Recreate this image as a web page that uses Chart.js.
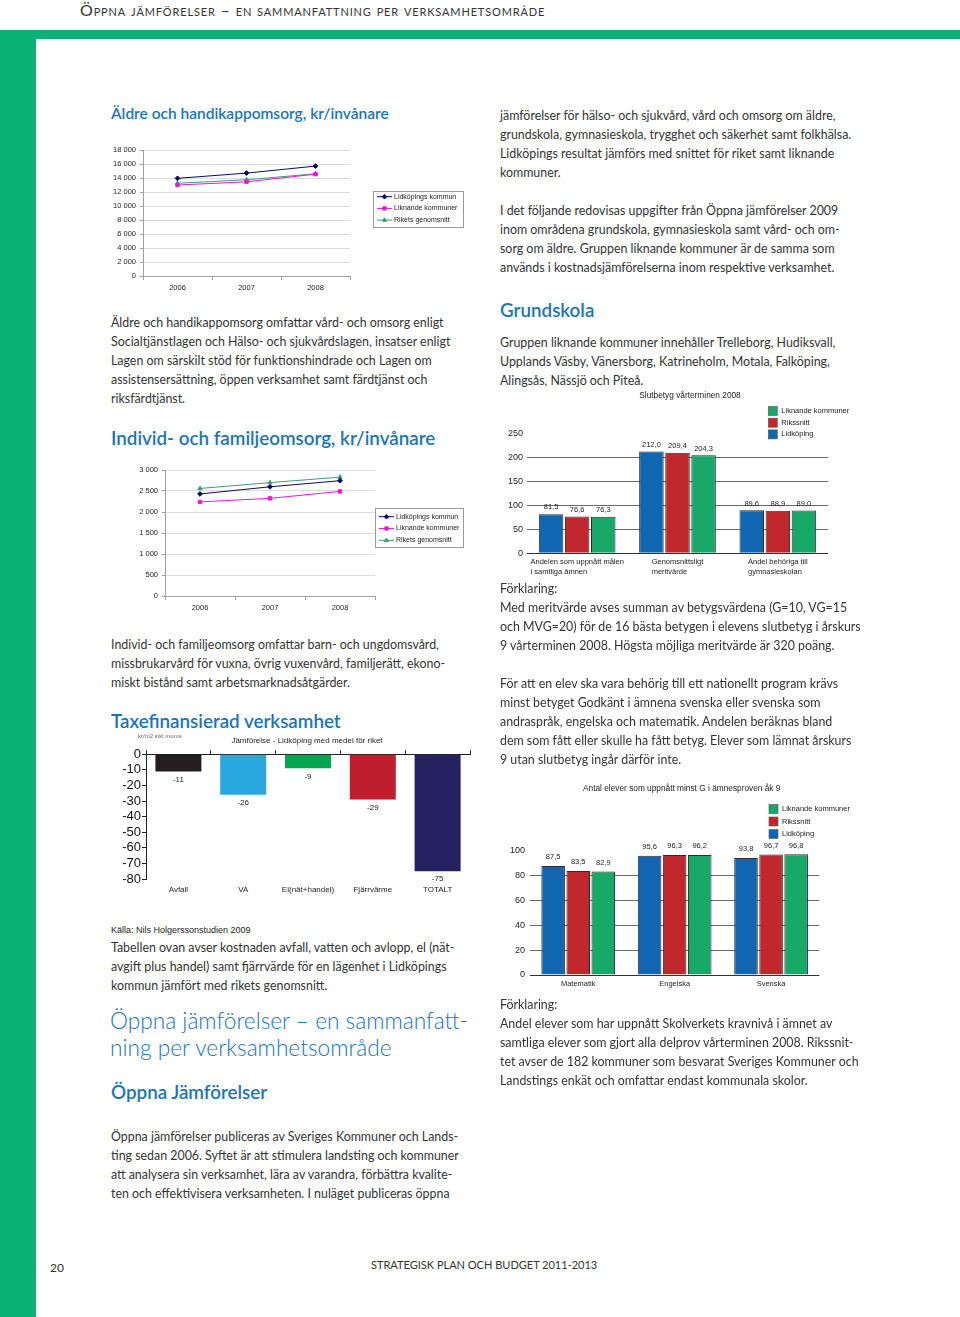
<!DOCTYPE html>
<html lang="sv">
<head>
<meta charset="utf-8">
<title>Öppna jämförelser</title>
<script src="https://cdn.jsdelivr.net/npm/chart.js@4.4.1/dist/chart.umd.min.js"></script>
<style>
    html, body { margin: 0; padding: 0; background: #fff; }
    body { width: 960px; height: 1317px; position: relative; overflow: hidden; font-family: Lato, 'Open Sans', sans-serif; color: #333; }
    .band { position: absolute; left: 0; top: 30px; width: 960px; height: 9px; background: #0bb174; }
    .strip { position: absolute; left: 0; top: 30px; width: 36px; height: 1287px; background: #0bb174; }
    .runhead { position: absolute; left: 80px; top: 1px; font-size: 16px; line-height: 18px; font-variant: small-caps; letter-spacing: 0.85px; color: #333; white-space: nowrap; }
    .txt { position: absolute; font-size: 12.4px; line-height: 19px; color: #333; white-space: nowrap; }
    .h { position: absolute; color: #1c74b6; font-weight: 600; white-space: nowrap; line-height: 20px; font-size: 18.8px; }
    .big { position: absolute; color: #1c74b6; font-weight: 300; font-size: 22.7px; line-height: 27px; white-space: nowrap; }
    .src { position: absolute; font-family: 'Liberation Sans', Arial, sans-serif; font-size: 9px; line-height: 12px; color: #222; white-space: nowrap; }
    canvas { position: absolute; }
    .foot { position: absolute; font-size: 12px; line-height: 16px; color: #333; white-space: nowrap; }
</style>
</head>
<body>
<div class="band"></div>
<div class="strip"></div>
<div class="runhead">Öppna jämförelser – en sammanfattning per verksamhetsområde</div>

<!-- left column -->
<div class="h" style="left:111px; top:103px; font-size:15.5px;">Äldre och handikappomsorg, kr/invånare</div>
<canvas id="aldreChart" width="360" height="165" style="left:110px; top:140px;"></canvas>
<div class="txt" style="left:111px; top:312.5px;">Äldre och handikappomsorg omfattar vård- och omsorg enligt<br>Socialtjänstlagen och Hälso- och sjukvårdslagen, insatser enligt<br>Lagen om särskilt stöd för funktionshindrade och Lagen om<br>assistensersättning, öppen verksamhet samt färdtjänst och<br>riksfärdtjänst.</div>

<div class="h" style="left:111px; top:428px;">Individ- och familjeomsorg, kr/invånare</div>
<canvas id="ifoChart" width="360" height="160" style="left:110px; top:460px;"></canvas>
<div class="txt" style="left:111px; top:634.5px;">Individ- och familjeomsorg omfattar barn- och ungdomsvård,<br>missbrukarvård för vuxna, övrig vuxenvård, familjerätt, ekono-<br>miskt bistånd samt arbetsmarknadsåtgärder.</div>

<div class="h" style="left:111px; top:711px;">Taxefinansierad verksamhet</div>
<canvas id="taxaChart" width="370" height="172" style="left:105px; top:728px;"></canvas>
<div class="src" style="left:111px; top:924px;">Källa: Nils Holgerssonstudien 2009</div>
<div class="txt" style="left:111px; top:937.5px;">Tabellen ovan avser kostnaden avfall, vatten och avlopp, el (nät-<br>avgift plus handel) samt fjärrvärde för en lägenhet i Lidköpings<br>kommun jämfört med rikets genomsnitt.</div>

<div class="big" style="left:110px; top:1006.5px;">Öppna jämförelser – en sammanfatt-<br>ning per verksamhetsområde</div>
<div class="h" style="left:111px; top:1082px;">Öppna Jämförelser</div>
<div class="txt" style="left:111px; top:1126.5px;">Öppna jämförelser publiceras av Sveriges Kommuner och Lands-<br>ting sedan 2006. Syftet är att stimulera landsting och kommuner<br>att analysera sin verksamhet, lära av varandra, förbättra kvalite-<br>ten och effektivisera verksamheten. I nuläget publiceras öppna</div>

<!-- right column -->
<div class="txt" style="left:500px; top:105.5px;">jämförelser för hälso- och sjukvård, vård och omsorg om äldre,<br>grundskola, gymnasieskola, trygghet och säkerhet samt folkhälsa.<br>Lidköpings resultat jämförs med snittet för riket samt liknande<br>kommuner.</div>
<div class="txt" style="left:500px; top:200.5px;">I det följande redovisas uppgifter från Öppna jämförelser 2009<br>inom områdena grundskola, gymnasieskola samt vård- och om-<br>sorg om äldre. Gruppen liknande kommuner är de samma som<br>används i kostnadsjämförelserna inom respektive verksamhet.</div>
<div class="h" style="left:500px; top:300px;">Grundskola</div>
<div class="txt" style="left:500px; top:332.5px;">Gruppen liknande kommuner innehåller Trelleborg, Hudiksvall,<br>Upplands Väsby, Vänersborg, Katrineholm, Motala, Falköping,<br>Alingsås, Nässjö och Piteå.</div>
<canvas id="slutbetygChart" width="360" height="197" style="left:500px; top:385px;"></canvas>
<div class="txt" style="left:500px; top:579px;">Förklaring:<br>Med meritvärde avses summan av betygsvärdena (G=10, VG=15<br>och MVG=20) för de 16 bästa betygen i elevens slutbetyg i årskurs<br>9 vårterminen 2008. Högsta möjliga meritvärde är 320 poäng.</div>
<div class="txt" style="left:500px; top:673.5px;">För att en elev ska vara behörig till ett nationellt program krävs<br>minst betyget Godkänt i ämnena svenska eller svenska som<br>andraspråk, engelska och matematik. Andelen beräknas bland<br>dem som fått eller skulle ha fått betyg. Elever som lämnat årskurs<br>9 utan slutbetyg ingår därför inte.</div>
<canvas id="provChart" width="360" height="214" style="left:500px; top:778px;"></canvas>
<div class="txt" style="left:500px; top:994.5px;">Förklaring:<br>Andel elever som har uppnått Skolverkets kravnivå i ämnet av<br>samtliga elever som gjort alla delprov vårterminen 2008. Rikssnit-<br>tet avser de 182 kommuner som besvarat Sveriges Kommuner och<br>Landstings enkät och omfattar endast kommunala skolor.</div>

<div class="foot" style="left:50px; top:1260px;">20</div>
<div class="foot" style="left:371px; top:1257px; font-size:11px;">STRATEGISK PLAN OCH BUDGET 2011-2013</div>

<script>
// ---- data ----
const years = ['2006', '2007', '2008'];
const lineSeriesNames = ['Lidköpings kommun', 'Liknande kommuner', 'Rikets genomsnitt'];

const aldreLidkoping = [13950, 14700, 15700];
const aldreLiknande = [13000, 13450, 14550];
const aldreRiket = [13250, 13750, 14600];
const aldreTicks = { min: 0, max: 18000, step: 2000 };

const ifoLidkoping = [2430, 2600, 2745];
const ifoLiknande = [2240, 2325, 2490];
const ifoRiket = [2560, 2700, 2830];
const ifoTicks = { min: 0, max: 3000, step: 500 };

const taxaCategories = ['Avfall', 'VA', 'El(nät+handel)', 'Fjärrvärme', 'TOTALT'];
const taxaValues = [-11, -26, -9, -29, -75];
const taxaTicks = { min: -80, max: 0, step: 10 };

const barSeriesNames = ['Lidköping', 'Rikssnitt', 'Liknande kommuner'];

const slutbetygCategories = [
    ['Andelen som uppnått målen', 'i samtliga ämnen'],
    ['Genomsnittsligt', 'meritvärde'],
    ['Andel behöriga till', 'gymnasieskolan']
];
const slutbetygLidkoping = [81.5, 212.0, 89.6];
const slutbetygRikssnitt = [76.6, 209.4, 88.9];
const slutbetygLiknande = [76.3, 204.3, 89.0];
const slutbetygTicks = { min: 0, max: 250, step: 50 };

const provCategories = ['Matematik', 'Engelska', 'Svenska'];
const provLidkoping = [87.5, 95.6, 93.8];
const provRikssnitt = [83.5, 96.3, 96.7];
const provLiknande = [82.9, 96.2, 96.8];
const provTicks = { min: 0, max: 100, step: 20 };

// ---- shared bits ----
const ARIAL = "'Liberation Sans', Arial, sans-serif";
const lineColors = ['#0a0a66', '#e619d6', '#3f9a77'];
const lineMarkers = ['rectRot', 'rect', 'triangle'];
const barColors = ['#1166b2', '#c1282e', '#18a867'];

Chart.defaults.font.family = ARIAL;
Chart.defaults.color = '#333';
Chart.defaults.animation = false;
Chart.defaults.responsive = false;
Chart.defaults.plugins.legend.display = false;
Chart.defaults.plugins.tooltip.enabled = false;

const spaced = v => String(v).replace(/\B(?=(\d{3})+(?!\d))/g, ' ');
const comma = v => v.toFixed(1).replace('.', ',');
const fixWidth = w => scale => { scale.width = w; };
const fixHeight = h => scale => { scale.height = h; };

// boxed legend for the two line charts
function lineLegend(box) {
    return {
        id: 'lineLegend',
        afterDraw(chart) {
            const ctx = chart.ctx;
            ctx.save();
            ctx.strokeStyle = '#9a9a9a';
            ctx.lineWidth = 1;
            ctx.strokeRect(box.x + 0.5, box.y + 0.5, box.w, box.h);
            ctx.font = '7px ' + ARIAL;
            ctx.textBaseline = 'middle';
            chart.data.datasets.forEach((ds, i) => {
                const y = box.y + box.first + i * box.gap;
                ctx.strokeStyle = ds.borderColor;
                ctx.beginPath();
                ctx.moveTo(box.x + 4, y);
                ctx.lineTo(box.x + 19, y);
                ctx.stroke();
                ctx.fillStyle = ds.pointBackgroundColor;
                Chart.helpers.drawPoint(ctx, { pointStyle: ds.pointStyle, radius: 2.3, borderWidth: 0.5, rotation: 0 }, box.x + 11.5, y);
                ctx.fillStyle = '#222';
                ctx.fillText(ds.label, box.x + 21, y);
            });
            ctx.restore();
        }
    };
}

function lineDatasets(values) {
    return values.map((data, i) => ({
        label: lineSeriesNames[i],
        data,
        borderColor: lineColors[i],
        backgroundColor: lineColors[i],
        pointBackgroundColor: lineColors[i],
        pointBorderColor: lineColors[i],
        pointStyle: lineMarkers[i],
        pointRadius: 2.4,
        borderWidth: 1,
        tension: 0
    }));
}

function lineChart(id, values, ticks, yWidth, xHeight, padding, legendBox) {
    new Chart(document.getElementById(id), {
        type: 'line',
        data: { labels: years, datasets: lineDatasets(values) },
        options: {
            layout: { padding },
            scales: {
                x: {
                    offset: true,
                    afterFit: fixHeight(xHeight),
                    grid: { offset: true, drawOnChartArea: false, tickLength: 4, color: '#a0a0a0' },
                    border: { color: '#a0a0a0' },
                    ticks: { font: { size: 7.5 }, padding: 3, color: '#222' }
                },
                y: {
                    min: ticks.min,
                    max: ticks.max,
                    afterFit: fixWidth(yWidth),
                    grid: { color: '#dcdcdc', tickLength: 3, tickColor: '#a0a0a0' },
                    border: { color: '#a0a0a0' },
                    ticks: { stepSize: ticks.step, autoSkip: false, font: { size: 7.5 }, padding: 4, color: '#222', callback: v => spaced(v) }
                }
            }
        },
        plugins: [lineLegend(legendBox)]
    });
}

lineChart('aldreChart', [aldreLidkoping, aldreLiknande, aldreRiket], aldreTicks, 33, 29,
    { top: 10, right: 120, left: 0, bottom: 0 },
    { x: 263, y: 51, w: 90, h: 36, first: 5.7, gap: 11.7 });

lineChart('ifoChart', [ifoLidkoping, ifoLiknande, ifoRiket], ifoTicks, 55, 24,
    { top: 10, right: 95, left: 0, bottom: 0 },
    { x: 265, y: 48, w: 88, h: 39, first: 8.7, gap: 11.8 });

// ---- Taxefinansierad verksamhet ----
const taxaColors = ['#231f20', '#29a8e0', '#00a651', '#be1e2d', '#262262'];

new Chart(document.getElementById('taxaChart'), {
    type: 'bar',
    data: {
        labels: taxaCategories,
        datasets: [{ data: taxaValues, backgroundColor: taxaColors, barPercentage: 0.71, categoryPercentage: 1 }]
    },
    options: {
        layout: { padding: { top: 22.3, right: 5, left: 0, bottom: 0 } },
        scales: {
            x: {
                afterFit: fixHeight(21),
                grid: { display: false, drawTicks: false },
                border: { display: false },
                ticks: { font: { size: 8 }, padding: 6, color: '#222', autoSkip: false, maxRotation: 0 }
            },
            xTop: {
                position: 'top',
                type: 'category',
                labels: taxaCategories,
                afterFit: fixHeight(4),
                grid: { offset: true, drawOnChartArea: false, tickLength: 4, color: '#222' },
                border: { color: '#222' },
                ticks: { display: false }
            },
            y: {
                min: taxaTicks.min,
                max: taxaTicks.max,
                afterFit: fixWidth(41),
                grid: { drawOnChartArea: false, tickLength: 4, color: '#222' },
                border: { color: '#222' },
                ticks: { stepSize: taxaTicks.step, autoSkip: false, font: { size: 13 }, padding: 1, color: '#111' }
            }
        }
    },
    plugins: [{
        id: 'taxaText',
        afterDraw(chart) {
            const ctx = chart.ctx;
            ctx.save();
            ctx.fillStyle = '#666';
            ctx.font = '6px ' + ARIAL;
            ctx.textBaseline = 'middle';
            ctx.fillText('kr/m2 inkl moms', 33, 8);
            ctx.fillStyle = '#222';
            ctx.font = '8px ' + ARIAL;
            ctx.textAlign = 'center';
            ctx.fillText('Jämförelse - Lidköping med medel för riket', 202, 13);
            // value under each bar
            ctx.textBaseline = 'top';
            chart.getDatasetMeta(0).data.forEach((bar, i) => {
                ctx.fillText(String(taxaValues[i]), bar.x, bar.y + 4);
            });
            ctx.restore();
        }
    }]
});

// ---- grouped bar charts (Grundskola) ----
function barDatasets(values) {
    return values.map((data, i) => ({
        label: barSeriesNames[i],
        data,
        backgroundColor: barColors[i],
        borderColor: '#2b2b2b',
        borderWidth: 1,
        barPercentage: 0.94,
        categoryPercentage: 0.78
    }));
}

function barDecor(opts) {
    return {
        id: 'barDecor',
        afterDraw(chart) {
            const ctx = chart.ctx;
            const area = chart.chartArea;
            ctx.save();
            // title
            ctx.fillStyle = '#222';
            ctx.font = '8.3px ' + ARIAL;
            ctx.textAlign = 'center';
            ctx.textBaseline = 'middle';
            ctx.fillText(opts.title, opts.titleX, opts.titleY);
            // legend, reversed order like the source
            ctx.textAlign = 'left';
            ctx.font = '7.5px ' + ARIAL;
            const order = [2, 1, 0];
            order.forEach((dsIndex, row) => {
                const ds = chart.data.datasets[dsIndex];
                const y = opts.legendY + row * opts.legendGap;
                ctx.fillStyle = ds.backgroundColor;
                ctx.fillRect(opts.legendX, y - 4.5, 9, 9);
                ctx.strokeStyle = '#555';
                ctx.lineWidth = 0.6;
                ctx.strokeRect(opts.legendX, y - 4.5, 9, 9);
                ctx.fillStyle = '#222';
                ctx.fillText(ds.label, opts.legendX + 13, y);
            });
            // values over bars
            ctx.textAlign = 'center';
            ctx.textBaseline = 'bottom';
            ctx.font = '7.5px ' + ARIAL;
            chart.data.datasets.forEach((ds, i) => {
                chart.getDatasetMeta(i).data.forEach((bar, j) => {
                    ctx.fillText(comma(ds.data[j]), bar.x, bar.y - opts.valueGap);
                });
            });
            // multi-line category labels, left aligned block centred under group
            if (opts.blockLabels) {
                const xs = chart.scales.x;
                ctx.textAlign = 'left';
                ctx.textBaseline = 'middle';
                opts.blockLabels.forEach((lines, i) => {
                    const cx = xs.getPixelForValue(i);
                    const w = Math.max(...lines.map(l => ctx.measureText(l).width));
                    lines.forEach((line, k) => {
                        ctx.fillText(line, cx - w / 2, area.bottom + opts.labelY + k * 10);
                    });
                });
            }
            ctx.restore();
        }
    };
}

function gridColor(max) {
    return c => {
        if (c.tick.value === max) return 'rgba(0,0,0,0)';
        if (c.tick.value === 0) return '#333';
        return '#6a6a6a';
    };
}

new Chart(document.getElementById('slutbetygChart'), {
    type: 'bar',
    data: {
        labels: slutbetygCategories.map(l => l.join(' ')),
        datasets: barDatasets([slutbetygLidkoping, slutbetygRikssnitt, slutbetygLiknande])
    },
    options: {
        layout: { padding: { top: 48.3, right: 32, left: 0, bottom: 0 } },
        scales: {
            x: {
                afterFit: fixHeight(28.7),
                grid: { display: false },
                border: { display: false },
                ticks: { display: false }
            },
            y: {
                min: slutbetygTicks.min,
                max: slutbetygTicks.max,
                afterFit: fixWidth(27),
                grid: { drawTicks: false, color: gridColor(slutbetygTicks.max) },
                border: { display: false },
                ticks: { stepSize: slutbetygTicks.step, autoSkip: false, font: { size: 9 }, padding: 4, color: '#222' }
            }
        }
    },
    plugins: [barDecor({
        title: 'Slutbetyg vårterminen 2008', titleX: 190, titleY: 10.7,
        legendX: 268.3, legendY: 26, legendGap: 11.7,
        valueGap: 3, blockLabels: slutbetygCategories, labelY: 8.7
    })]
});

new Chart(document.getElementById('provChart'), {
    type: 'bar',
    data: {
        labels: provCategories,
        datasets: barDatasets([provLidkoping, provRikssnitt, provLiknande])
    },
    options: {
        layout: { padding: { top: 72.3, right: 40.7, left: 0, bottom: 0 } },
        scales: {
            x: {
                afterFit: fixHeight(17),
                grid: { display: false, drawTicks: false },
                border: { display: false },
                ticks: { font: { size: 7.5 }, padding: 4, color: '#222', maxRotation: 0 }
            },
            y: {
                min: provTicks.min,
                max: provTicks.max,
                afterFit: fixWidth(30),
                grid: { drawTicks: false, color: gridColor(provTicks.max) },
                border: { display: false },
                ticks: { stepSize: provTicks.step, autoSkip: false, font: { size: 9 }, padding: 5, color: '#222' }
            }
        }
    },
    plugins: [barDecor({
        title: 'Antal elever som uppnått minst G i ämnesproven åk 9', titleX: 181.7, titleY: 11,
        legendX: 269, legendY: 31, legendGap: 12.5,
        valueGap: 5
    })]
});
</script>
</body>
</html>
